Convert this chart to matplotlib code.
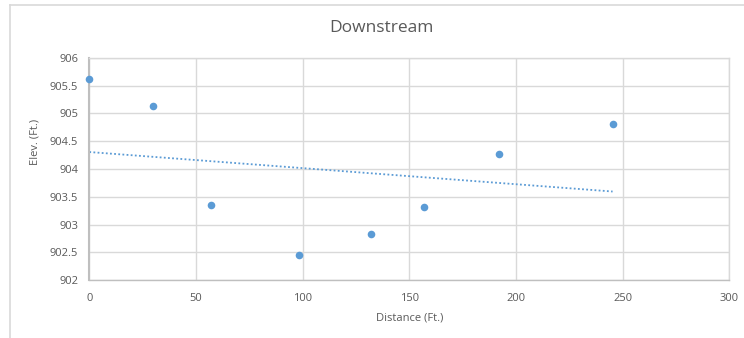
import numpy as np
import matplotlib
matplotlib.use("Agg")
import matplotlib.pyplot as plt
from matplotlib.lines import Line2D

distance = [0, 29.7, 56.9, 98.4, 131.9, 156.9, 191.9, 245.3]
elevation = [905.62, 905.14, 903.35, 902.46, 902.83, 903.32, 904.275, 904.81]
x_ticks = [0, 50, 100, 150, 200, 250, 300]
y_ticks = [902, 902.5, 903, 903.5, 904, 904.5, 905, 905.5, 906]
y_tick_labels = ["902", "902.5", "903", "903.5", "904", "904.5", "905", "905.5", "906"]

W, H = 744, 338
fig = plt.figure(figsize=(W / 100, H / 100), dpi=100)
plt.rcParams["font.family"] = ["Open Sans", "DejaVu Sans"]

# chart frame (light border)
fig.add_artist(Line2D([10 / W, 10 / W], [0, 1 - 5 / H], transform=fig.transFigure,
                      color="#d9d9d9", lw=1.2))
fig.add_artist(Line2D([10 / W, 1], [1 - 5 / H, 1 - 5 / H], transform=fig.transFigure,
                      color="#d9d9d9", lw=1.2))

x0, x1 = 89.3, 729.3
y_top, y_bot = 57.7, 280.3
ax = fig.add_axes([x0 / W, 1 - y_bot / H, (x1 - x0) / W, (y_bot - y_top) / H])

ax.set_xlim(0, 300)
ax.set_ylim(902, 906)
ax.set_xticks(x_ticks)
ax.set_yticks(y_ticks)
ax.set_yticklabels(y_tick_labels)
ax.grid(True, color="#d9d9d9", lw=1.0)
ax.set_axisbelow(True)
for side in ["top", "right"]:
    ax.spines[side].set_color("#d9d9d9")
    ax.spines[side].set_linewidth(1.0)
ax.spines["left"].set_color("#bfbfbf")
ax.spines["left"].set_linewidth(1.5)
ax.spines["bottom"].set_color("#bfbfbf")
ax.spines["bottom"].set_linewidth(1.0)
ax.tick_params(length=0, labelsize=8, labelcolor="#595959", pad=8)
ax.tick_params(axis="x", pad=9)

ax.scatter(distance, elevation, s=30, color="#5b9bd5", zorder=3, clip_on=False,
           linewidths=0)

# linear trendline
coef = np.polyfit(distance, elevation, 1)
tx = np.array([min(distance), max(distance)])
ax.plot(tx, np.polyval(coef, tx), color="#5b9bd5", lw=1.3, ls=(0, (1, 1.3)), zorder=2)

fig.text(381 / W, 1 - 28 / H, "Downstream", ha="center", va="center",
         fontsize=12.5, color="#595959")
fig.text(410 / W, 1 - 318 / H, "Distance (Ft.)", ha="center", va="center",
         fontsize=8, color="#595959")
fig.text(35 / W, 1 - 142 / H, "Elev. (Ft.)", ha="center", va="center",
         fontsize=8, color="#595959", rotation=90)

fig.savefig("out.png", dpi=100, facecolor="white")
